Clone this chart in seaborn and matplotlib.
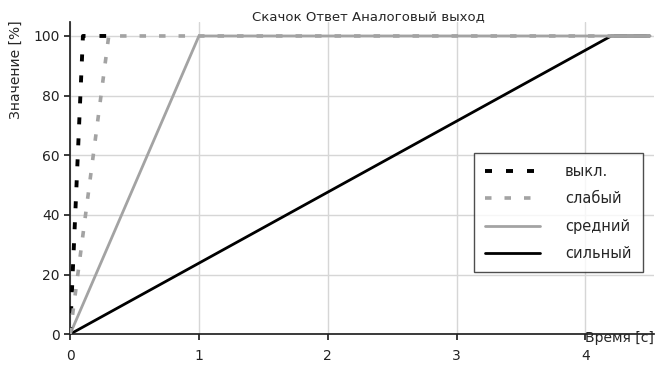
import pandas as pd
import matplotlib
matplotlib.use('Agg')
import matplotlib.pyplot as plt
import seaborn as sns

# data
names = ['выкл.', 'слабый', 'средний', 'сильный']
time_pts = {
    'выкл.':   [0, 0.1, 0.28],
    'слабый':  [0, 0.3, 4.5],
    'средний': [0, 1.0, 4.5],
    'сильный': [0, 4.2, 4.5],
}
value_pts = {
    'выкл.':   [0, 100, 100],
    'слабый':  [0, 100, 100],
    'средний': [0, 100, 100],
    'сильный': [0, 100, 100],
}
x_ticks = [0, 1, 2, 3, 4]
y_ticks = [0, 20, 40, 60, 80, 100]

dfs = []
for n in names:
  dfs.append(pd.DataFrame({'t': time_pts[n], 'v': value_pts[n], 'mode': n}))
data = pd.concat(dfs, ignore_index=True)

sns.set_theme(style='white')
plt.rcParams['font.family'] = ['DejaVu Sans']

fig = plt.figure(figsize=(6.61, 3.66), dpi=100)
ax = fig.add_axes([0.106, 0.087, 0.883, 0.853])

palette = {'выкл.': 'black', 'слабый': '#a3a3a3', 'средний': '#a3a3a3', 'сильный': 'black'}
dashes = {'выкл.': (1.8, 3.6), 'слабый': (1.8, 3.6), 'средний': '', 'сильный': ''}
sizes = {'выкл.': 2.8, 'слабый': 2.6, 'средний': 2.0, 'сильный': 2.0}

sns.lineplot(data=data, x='t', y='v', hue='mode', style='mode', size='mode',
             hue_order=names, style_order=names, size_order=names,
             palette=palette, dashes=dashes, sizes=sizes, ax=ax)

# drawing order: weak dashed on top, strong solid at the bottom
order_z = {'выкл.': 4, 'слабый': 5, 'средний': 3, 'сильный': 2}
for line, n in zip(ax.lines[:4], names):
  line.set_zorder(order_z[n])

ax.set(xlim=(0, 4.53), ylim=(0, 104.7))
ax.set_xticks(x_ticks)
ax.set_yticks(y_ticks)
ax.grid(True, color='#d6d6d6', linewidth=1)
ax.spines['top'].set_visible(False)
ax.spines['right'].set_visible(False)
ax.spines['left'].set_color('#222222')
ax.spines['bottom'].set_color('#222222')
ax.tick_params(axis='both', direction='out', length=4, color='#222222',
               labelsize=10, labelcolor='#222222', bottom=True, left=True)
ax.tick_params(axis='x', pad=7)

ax.set_xlabel('')
ax.set_ylabel('')
fig.text(0.989, 0.058, 'Время [c]', ha='right', va='bottom', fontsize=10)
fig.text(0.024, 0.945, 'Значение [%]', ha='center', va='top', rotation=90, fontsize=10)
fig.text(0.557, 0.935, 'Скачок Ответ Аналоговый выход', ha='center', va='bottom', fontsize=9.5)

handles, labels = ax.get_legend_handles_labels()
ax.legend_.remove()
leg = ax.legend(handles, labels, loc='upper left', bbox_to_anchor=(0.692, 0.58),
                frameon=True, fancybox=False, edgecolor='#222222', fontsize=10.5,
                handlelength=3.8, borderpad=0.75, labelspacing=0.85, handletextpad=1.7,
                borderaxespad=0)
leg.get_frame().set_linewidth(1)

fig.savefig('out.png', dpi=100)
